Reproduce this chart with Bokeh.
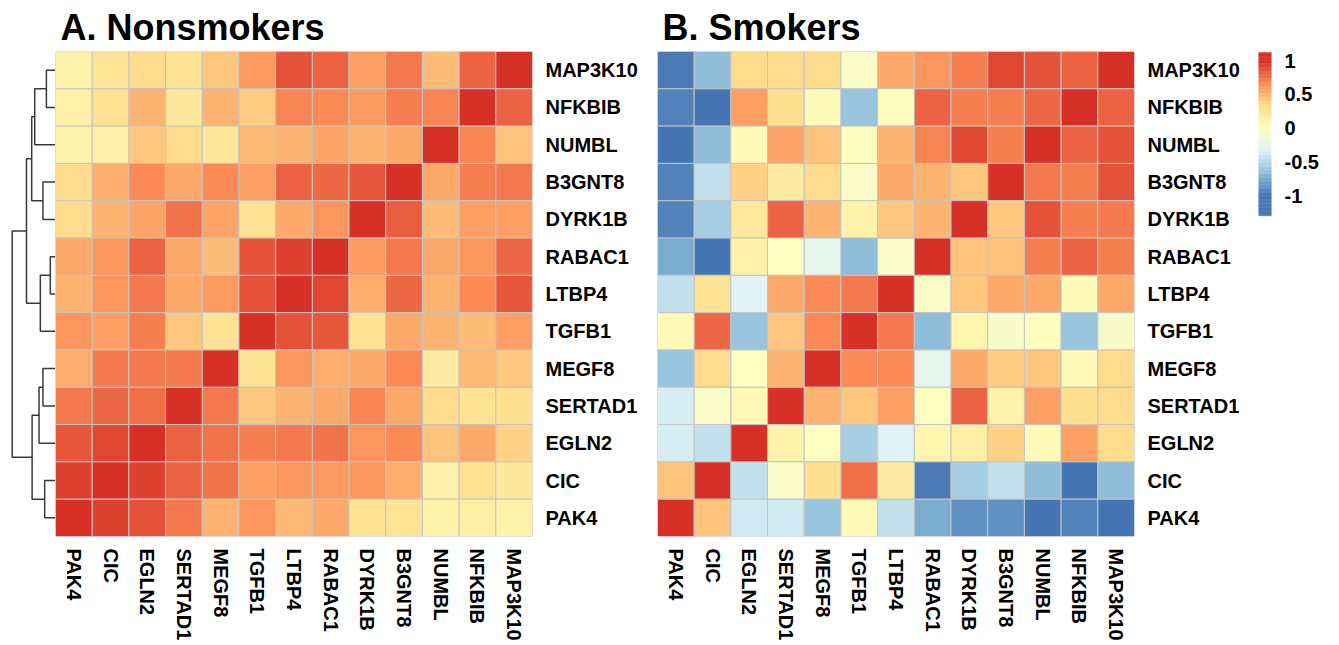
import numpy as np
from bokeh.plotting import figure
from bokeh.models import FactorRange, Range1d, LinearColorMapper, ColumnDataSource, FixedTicker
from bokeh.transform import transform
from bokeh.layouts import row
from bokeh.embed import file_html
from bokeh.resources import INLINE

# ---------------- data ----------------
row_genes = ["MAP3K10", "NFKBIB", "NUMBL", "B3GNT8", "DYRK1B", "RABAC1", "LTBP4",
             "TGFB1", "MEGF8", "SERTAD1", "EGLN2", "CIC", "PAK4"]
col_genes = ["PAK4", "CIC", "EGLN2", "SERTAD1", "MEGF8", "TGFB1", "LTBP4",
             "RABAC1", "DYRK1B", "B3GNT8", "NUMBL", "NFKBIB", "MAP3K10"]

# rows top->bottom (row_genes), columns left->right (col_genes)
corr_nonsmokers = [
    [0.12, 0.28, 0.35, 0.30, 0.42, 0.60, 0.88, 0.80, 0.58, 0.72, 0.47, 0.80, 1.00],
    [0.15, 0.30, 0.50, 0.25, 0.50, 0.40, 0.68, 0.66, 0.60, 0.70, 0.68, 1.00, 0.80],
    [0.12, 0.15, 0.42, 0.35, 0.25, 0.48, 0.50, 0.56, 0.50, 0.55, 1.00, 0.68, 0.45],
    [0.34, 0.52, 0.66, 0.55, 0.67, 0.58, 0.82, 0.78, 0.86, 1.00, 0.55, 0.70, 0.72],
    [0.34, 0.50, 0.56, 0.75, 0.56, 0.30, 0.54, 0.62, 1.00, 0.84, 0.46, 0.58, 0.58],
    [0.55, 0.63, 0.80, 0.55, 0.47, 0.88, 0.92, 1.00, 0.60, 0.72, 0.55, 0.63, 0.78],
    [0.50, 0.63, 0.72, 0.55, 0.60, 0.88, 1.00, 0.90, 0.53, 0.78, 0.50, 0.66, 0.85],
    [0.63, 0.58, 0.70, 0.43, 0.30, 1.00, 0.88, 0.86, 0.30, 0.55, 0.50, 0.46, 0.58],
    [0.52, 0.73, 0.73, 0.72, 1.00, 0.30, 0.62, 0.52, 0.55, 0.67, 0.20, 0.48, 0.42],
    [0.73, 0.78, 0.77, 1.00, 0.73, 0.42, 0.50, 0.55, 0.68, 0.55, 0.36, 0.30, 0.33],
    [0.86, 0.90, 1.00, 0.80, 0.74, 0.70, 0.72, 0.75, 0.63, 0.66, 0.45, 0.55, 0.38],
    [0.92, 1.00, 0.93, 0.80, 0.74, 0.58, 0.62, 0.60, 0.63, 0.53, 0.15, 0.30, 0.25],
    [1.00, 0.92, 0.88, 0.73, 0.50, 0.63, 0.48, 0.55, 0.30, 0.28, 0.13, 0.17, 0.12],
]

corr_smokers = [
    [-0.97, -0.67, 0.35, 0.35, 0.35, -0.05, 0.55, 0.62, 0.70, 0.90, 0.88, 0.82, 1.00],
    [-0.93, -1.00, 0.58, 0.33, 0.03, -0.64, 0.00, 0.80, 0.71, 0.70, 0.78, 1.00, 0.80],
    [-1.00, -0.67, 0.05, 0.56, 0.45, 0.00, 0.50, 0.68, 0.90, 0.70, 1.00, 0.80, 0.87],
    [-0.92, -0.45, 0.38, 0.20, 0.36, -0.05, 0.55, 0.50, 0.43, 1.00, 0.72, 0.70, 0.87],
    [-0.92, -0.58, 0.22, 0.80, 0.50, 0.12, 0.43, 0.50, 1.00, 0.43, 0.87, 0.70, 0.72],
    [-0.75, -1.00, 0.15, -0.02, -0.28, -0.67, -0.05, 1.00, 0.45, 0.45, 0.70, 0.80, 0.70],
    [-0.45, 0.30, -0.33, 0.55, 0.66, 0.72, 1.00, -0.05, 0.43, 0.55, 0.55, 0.02, 0.55],
    [0.05, 0.78, -0.64, 0.43, 0.67, 1.00, 0.73, -0.67, 0.10, -0.08, 0.00, -0.64, -0.08],
    [-0.64, 0.36, -0.02, 0.50, 1.00, 0.67, 0.67, -0.28, 0.55, 0.40, 0.43, 0.04, 0.36],
    [-0.38, -0.05, 0.05, 1.00, 0.50, 0.43, 0.58, -0.02, 0.80, 0.13, 0.58, 0.33, 0.34],
    [-0.38, -0.45, 1.00, 0.13, -0.02, -0.58, -0.33, 0.10, 0.18, 0.38, 0.04, 0.58, 0.36],
    [0.45, 1.00, -0.45, -0.05, 0.33, 0.77, 0.20, -0.97, -0.58, -0.45, -0.67, -1.00, -0.67],
    [1.00, 0.45, -0.40, -0.40, -0.64, 0.04, -0.45, -0.75, -0.88, -0.88, -1.00, -0.92, -1.00],
]

# hierarchical clustering of rows (nonsmokers): (node, left, right, merge height)
merges = [
    ("c1", "MAP3K10", "NFKBIB", 0.21),
    ("c2", "c1", "NUMBL", 0.48),
    ("c3", "B3GNT8", "DYRK1B", 0.29),
    ("c4", "c2", "c3", 0.55),
    ("c5", "RABAC1", "LTBP4", 0.12),
    ("c6", "c5", "TGFB1", 0.35),
    ("c7", "c4", "c6", 0.67),
    ("c8", "MEGF8", "SERTAD1", 0.29),
    ("c9", "c8", "EGLN2", 0.38),
    ("c10", "CIC", "PAK4", 0.25),
    ("c11", "c9", "c10", 0.54),
    ("c12", "c7", "c11", 1.00),
]

titles = ["A. Nonsmokers", "B. Smokers"]
legend_ticks = [-1, -0.5, 0, 0.5, 1]
legend_lo, legend_hi = -1.3, 1.12

# ---------------- styling ----------------
FONT = "Liberation Sans"
H = 644
TOP = 51
BOTTOM = 108
FRAME_H = H - TOP - BOTTOM

base7 = ["#4575B4", "#91BFDB", "#E0F3F8", "#FFFFBF", "#FEE090", "#FC8D59", "#D73027"]


def interp_palette(cols, n):
    rgb = np.array([[int(c[i:i + 2], 16) for i in (1, 3, 5)] for c in cols], float)
    t = np.linspace(0, 1, len(cols))
    out = []
    for s in np.linspace(0, 1, n):
        r, g, b = (np.interp(s, t, rgb[:, k]) for k in range(3))
        out.append("#%02x%02x%02x" % (int(round(r)), int(round(g)), int(round(b))))
    return out


palette = interp_palette(base7, 100)
mapper = LinearColorMapper(palette=palette, low=-1, high=1)


def style_title(p, text):
    p.title.text = text
    p.title.text_font = FONT
    p.title.text_font_style = "bold"
    p.title.text_font_size = "36px"
    p.title.align = "left"
    p.title.offset = 5
    p.title.standoff = 8
    p.title.text_color = "black"


def heatmap(matrix, title, width, right_border):
    p = figure(width=width, height=H, x_range=FactorRange(*col_genes),
               y_range=FactorRange(*row_genes[::-1]), y_axis_location="right",
               toolbar_location=None, output_backend="svg",
               min_border_left=0, min_border_right=right_border,
               min_border_top=TOP, min_border_bottom=BOTTOM)
    style_title(p, title)
    xs, ys, vs = [], [], []
    for i, g in enumerate(row_genes):
        for j, c in enumerate(col_genes):
            xs.append(c)
            ys.append(g)
            vs.append(matrix[i][j])
    src = ColumnDataSource(dict(x=xs, y=ys, v=vs))
    p.rect("x", "y", 1, 1, source=src, fill_color=transform("v", mapper),
           line_color="#c4c4c4", line_width=1)
    p.outline_line_color = None
    p.grid.visible = False
    for ax in (p.xaxis, p.yaxis):
        ax.axis_line_color = None
        ax.major_tick_line_color = None
        ax.minor_tick_line_color = None
        ax.major_label_text_font = FONT
        ax.major_label_text_font_style = "bold"
        ax.major_label_text_font_size = "20px"
        ax.major_label_text_color = "black"
    p.xaxis.major_label_orientation = "vertical"
    p.xaxis.major_label_standoff = 6
    p.yaxis.major_label_standoff = 7
    return p


# ---------------- dendrogram ----------------
dend = figure(width=55, height=H, x_range=Range1d(1.27, 0), y_range=Range1d(0, 13),
              toolbar_location=None, output_backend="svg",
              min_border_left=0, min_border_right=0,
              min_border_top=TOP, min_border_bottom=BOTTOM)
style_title(dend, " ")
dend.axis.visible = False
dend.grid.visible = False
dend.outline_line_color = None
node_y = {g: 12.5 - i for i, g in enumerate(row_genes)}
node_h = {g: 0.0 for g in row_genes}
dx, dy = [], []
for name, a, b, h in merges:
    ya, yb = node_y[a], node_y[b]
    dx.append([node_h[a], h, h, node_h[b]])
    dy.append([ya, ya, yb, yb])
    node_y[name] = (ya + yb) / 2
    node_h[name] = h
dend.multi_line(dx, dy, line_color="#3a3a3a", line_width=1.5)

pa = heatmap(corr_nonsmokers, titles[0], 602, 125)
pb = heatmap(corr_smokers, titles[1], 593, 116)

# ---------------- colour legend ----------------
# frame spans the same height as the heatmaps; the bar occupies its top part
px_per_unit = 67.5
frame_top_val = 1 + 9 / px_per_unit
frame_bot_val = frame_top_val - FRAME_H / px_per_unit
leg = figure(width=89, height=H, x_range=Range1d(0, 1),
             y_range=Range1d(frame_bot_val, frame_top_val),
             y_axis_location="right", toolbar_location=None, output_backend="svg",
             min_border_left=8, min_border_right=68,
             min_border_top=TOP, min_border_bottom=BOTTOM)
style_title(leg, " ")
nseg = 120
edges = np.linspace(legend_lo, legend_hi, nseg + 1)
mids = (edges[:-1] + edges[1:]) / 2
lsrc = ColumnDataSource(dict(y=mids, v=mids))
leg.rect(0.5, "y", 1, (legend_hi - legend_lo) / nseg, source=lsrc,
         fill_color=transform("v", mapper), line_color=transform("v", mapper),
         line_width=0.5)
leg.xaxis.visible = False
leg.grid.visible = False
leg.outline_line_color = None
leg.yaxis.ticker = FixedTicker(ticks=legend_ticks)
leg.yaxis.major_label_overrides = {t: str(t) for t in legend_ticks}
leg.yaxis.axis_line_color = None
leg.yaxis.major_tick_line_color = None
leg.yaxis.minor_tick_line_color = None
leg.yaxis.major_label_standoff = 7
leg.yaxis.major_label_text_font = FONT
leg.yaxis.major_label_text_font_style = "bold"
leg.yaxis.major_label_text_font_size = "20px"
leg.yaxis.major_label_text_color = "black"

layout = row(dend, pa, pb, leg, spacing=0)
open("out.html", "w").write(file_html(layout, INLINE))
